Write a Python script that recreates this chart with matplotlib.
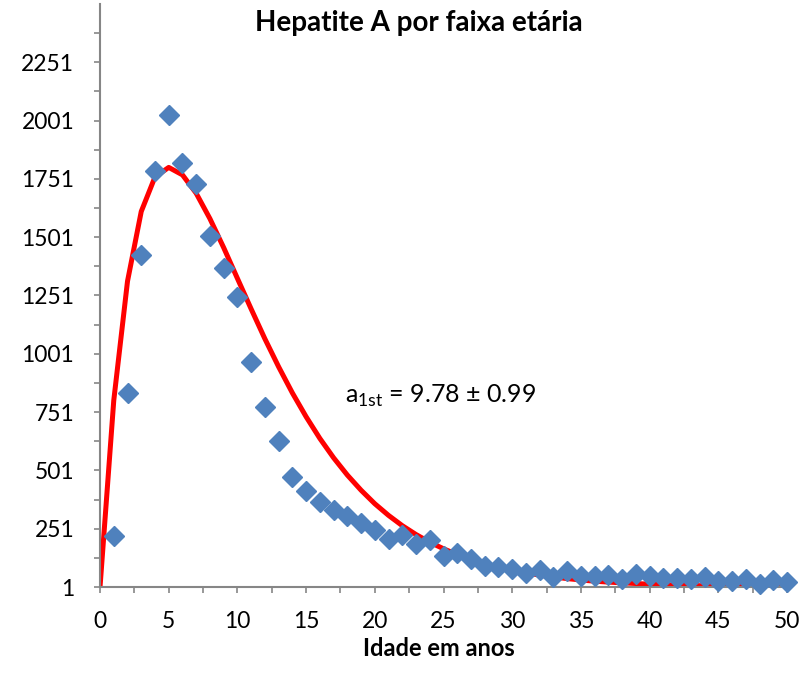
import numpy as np
import matplotlib
matplotlib.use('Agg')
import matplotlib.pyplot as plt

plt.rcParams['font.family'] = ['Lato', 'DejaVu Sans']
plt.rcParams['mathtext.fontset'] = 'custom'
plt.rcParams['mathtext.rm'] = 'Lato'

# observed cases by age
idade = list(range(1, 51))
casos = [220, 832, 1423, 1783, 2023, 1817, 1731, 1504, 1367, 1243,
         964, 771, 626, 471, 411, 364, 330, 304, 274, 244,
         206, 223, 184, 201, 133, 146, 120, 90, 86, 77,
         60, 73, 43, 69, 48, 48, 52, 35, 57, 48,
         39, 39, 35, 43, 26, 26, 35, 14, 30, 22]

# fitted curve
idade_fit = list(range(0, 51))
ajuste = [1, 801, 1312, 1611, 1759, 1800, 1768, 1689, 1580, 1456,
          1324, 1193, 1065, 945, 833, 731, 638, 555, 481, 416,
          358, 308, 264, 226, 193, 165, 140, 119, 101, 86,
          73, 62, 52, 44, 37, 31, 26, 22, 19, 16,
          13, 11, 9, 8, 6, 5, 4, 4, 3, 2, 2]

yticks = [1, 251, 501, 751, 1001, 1251, 1501, 1751, 2001, 2251]
xticks = [0, 5, 10, 15, 20, 25, 30, 35, 40, 45, 50]

fig = plt.figure(figsize=(8.08, 6.86), dpi=100)
ax = fig.add_axes([0.1238, 0.1443, 0.8502, 0.85])

ax.plot(idade_fit, ajuste, color='#FF0000', lw=3.6, solid_joinstyle='round', zorder=2)
ax.plot(idade, casos, linestyle='none', marker='D', ms=10, color='#4F81BD',
        mec='#4F81BD', clip_on=False, zorder=3)

ax.set_xlim(0, 50)
ax.set_ylim(1, 2501)
ax.set_xticks(xticks)
ax.set_yticks(yticks)
ax.set_xticks(np.arange(0, 50.1, 2.5), minor=True)
ax.set_yticks(np.arange(126, 2501, 250), minor=True)

for s in ['top', 'right']:
    ax.spines[s].set_visible(False)
for s in ['left', 'bottom']:
    ax.spines[s].set_color('#868686')
    ax.spines[s].set_linewidth(1.5)

ax.tick_params(which='both', direction='out', length=4.5, width=1.2, color='#868686',
               labelsize=16.5, labelcolor='black')
ax.tick_params(axis='x', pad=13)
ax.tick_params(axis='y', pad=14)

fig.text(0.518, 0.966, 'Hepatite A por faixa etária', ha='center', va='center',
         fontsize=20, fontweight='bold')
fig.text(0.543, 0.055, 'Idade em anos', ha='center', va='center',
         fontsize=17, fontweight='bold')

ax.text(17.8, 820, r'a$_{\mathrm{1st}}$ = 9.78 ± 0.99', fontsize=18, ha='left', va='center')

fig.savefig('out.png', dpi=100)
